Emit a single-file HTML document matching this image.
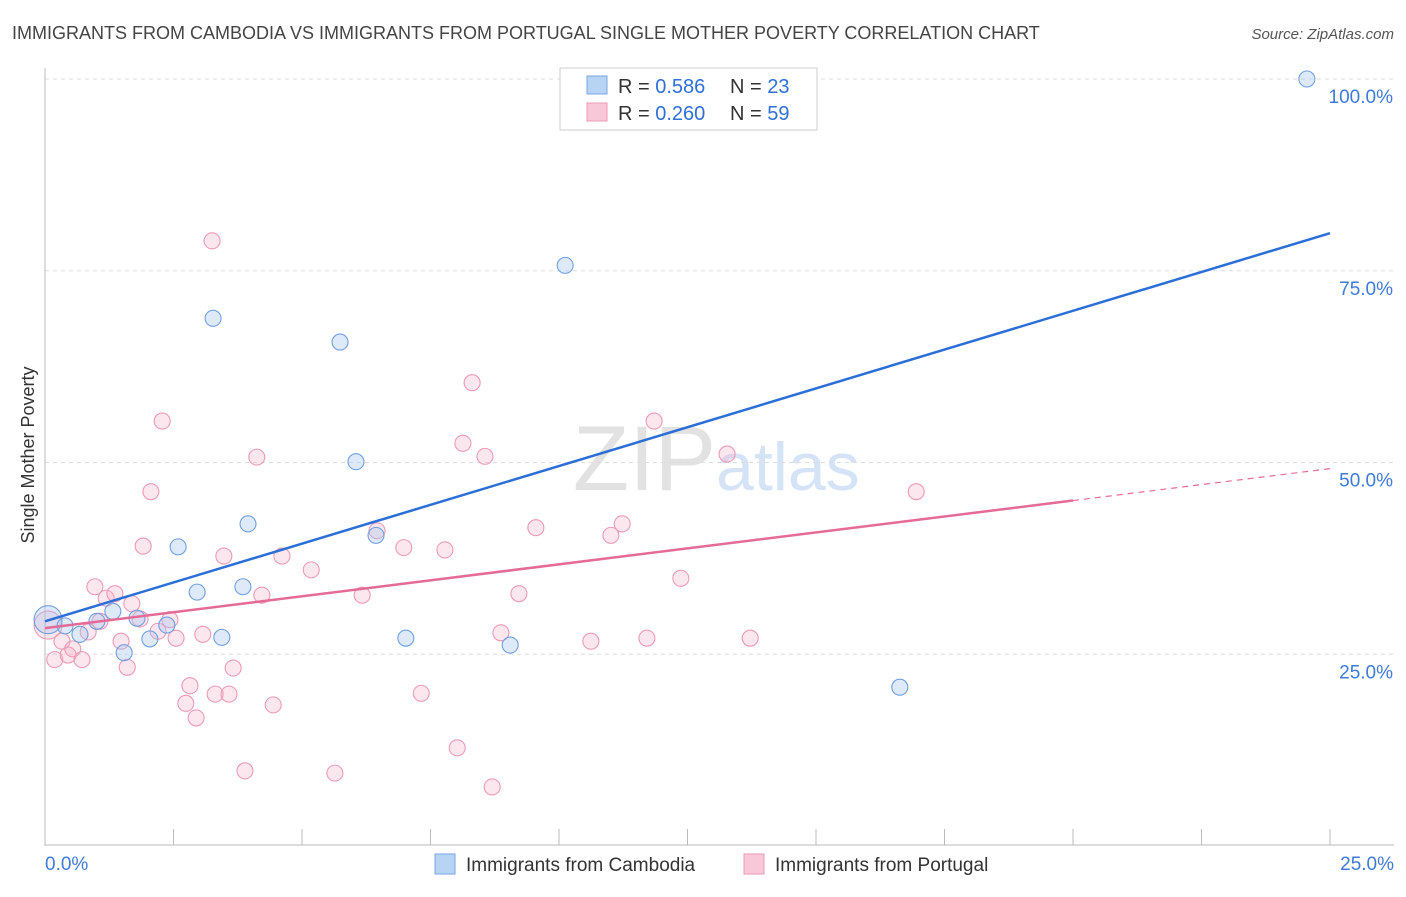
<!DOCTYPE html>
<html><head><meta charset="utf-8"><style>
body{margin:0;background:#fff;font-family:"Liberation Sans",sans-serif;}
svg text{font-family:"Liberation Sans",sans-serif;}
</style></head><body>
<svg id="c" width="1406" height="892">
<text x="12" y="39" font-size="18" fill="#444">IMMIGRANTS FROM CAMBODIA VS IMMIGRANTS FROM PORTUGAL SINGLE MOTHER POVERTY CORRELATION CHART</text>
<text x="1394" y="39" font-size="15" fill="#555" font-style="italic" text-anchor="end">Source: ZipAtlas.com</text>
<text x="716" y="490" font-size="92" fill="#e2e2e2" text-anchor="end" font-family="Liberation Serif">ZIP</text>
<text x="716" y="490" font-size="68" fill="#d4e3f6">atlas</text>
<text transform="translate(34,455) rotate(-90)" font-size="18" fill="#333" text-anchor="middle">Single Mother Poverty</text>
<g id="grid"></g><g id="marks"></g>
<g>
<rect x="560" y="68" width="257" height="62" fill="#fff" stroke="#ccc"/>
<rect x="587" y="76" width="20" height="18" fill="#b8d4f5" stroke="#7aa6e0"/>
<rect x="587" y="103" width="20" height="18" fill="#f9c8d8" stroke="#eb9ab4"/>
<text x="618" y="93" font-size="20" fill="#333">R = <tspan fill="#2f6fd6">0.586</tspan></text>
<text x="730" y="93" font-size="20" fill="#333">N = <tspan fill="#2f6fd6">23</tspan></text>
<text x="618" y="120" font-size="20" fill="#333">R = <tspan fill="#2f6fd6">0.260</tspan></text>
<text x="730" y="120" font-size="20" fill="#333">N = <tspan fill="#2f6fd6">59</tspan></text>
</g>
<g>
<rect x="435" y="854" width="20" height="20" fill="#b8d4f5" stroke="#7aa6e0"/>
<text x="466" y="871" font-size="19" fill="#333">Immigrants from Cambodia</text>
<rect x="744" y="854" width="20" height="20" fill="#f9c8d8" stroke="#eb9ab4"/>
<text x="775" y="871" font-size="19" fill="#333">Immigrants from Portugal</text>
</g>
</svg>
<script>
const xTicks=[0,2.5,5,7.5,10,12.5,15,17.5,20,22.5,25];
const yTicks=[25,50,75,100];
const yTickLabels=["25.0%","50.0%","75.0%","100.0%"];
const blueX=[0.06,0.39,0.68,1.01,1.32,1.54,1.79,2.04,2.37,2.59,2.96,3.27,3.44,3.85,3.95,5.74,6.05,6.44,7.02,9.05,10.12,16.63,24.55];
const blueY=[29.5,28.7,27.6,29.3,30.6,25.2,29.7,27.0,28.8,39.0,33.1,68.8,27.2,33.8,42.0,65.7,50.1,40.5,27.1,26.2,75.7,20.7,100.0];
const pinkX=[0.06,0.19,0.33,0.45,0.54,0.72,0.84,0.97,1.07,1.19,1.36,1.48,1.60,1.69,1.85,1.91,2.06,2.20,2.28,2.43,2.55,2.74,2.82,2.94,3.07,3.25,3.31,3.48,3.58,3.66,3.89,4.12,4.22,4.44,4.61,5.18,5.64,6.17,6.46,6.98,7.32,7.78,8.02,8.13,8.31,8.56,8.70,8.87,9.22,9.55,10.62,11.01,11.23,11.71,11.85,12.37,13.27,13.72,16.95];
const pinkY=[28.8,24.3,26.7,24.9,25.7,24.3,27.9,33.8,29.3,32.3,32.9,26.7,23.3,31.6,29.6,39.1,46.2,28.0,55.4,29.5,27.1,18.6,20.9,16.7,27.6,78.9,19.8,37.8,19.8,23.2,9.8,50.7,32.7,18.4,37.8,36.0,9.5,32.7,41.1,38.9,19.9,38.6,12.8,52.5,60.4,50.8,7.7,27.8,32.9,41.5,26.7,40.5,42.0,27.1,55.4,34.9,51.1,27.1,46.2];
const blueTrend=[29.3,2.024];
const pinkTrend=[28.4,0.832];
const sx=v=>45+v*51.4, sy=v=>846-v*7.67;
const NS="http://www.w3.org/2000/svg";
const grid=document.getElementById('grid'), marks=document.getElementById('marks');
function mk(p,tag,a){const e=document.createElementNS(NS,tag);for(const k in a)e.setAttribute(k,a[k]);p.appendChild(e);return e;}
yTicks.forEach((t,i)=>{
 const l=mk(grid,'line',{x1:45,x2:1394,y1:sy(t),y2:sy(t),stroke:'#ddd','stroke-dasharray':'4,4'});
 
 
 const tx=mk(grid,'text',{x:1393,y:sy(t)+24,'font-size':19,fill:'#3f7ad8','text-anchor':'end'});tx.textContent=yTickLabels[i];
 
 
});
mk(grid,'line',{x1:45,x2:45,y1:68,y2:846,stroke:'#bbb'});
mk(grid,'line',{x1:45,x2:1394,y1:845,y2:845,stroke:'#bbb'});
xTicks.forEach(t=>{const l=mk(grid,'line',{x1:sx(t),x2:sx(t),y1:829,y2:845,stroke:'#bbb'});
 
 });
let t0=mk(grid,'text',{x:45,y:870,'font-size':19,fill:'#3f7ad8'});t0.textContent='0.0%';


let t1=mk(grid,'text',{x:1394,y:870,'font-size':19,fill:'#3f7ad8','text-anchor':'end'});t1.textContent='25.0%';


pinkX.forEach((x,i)=>{const c=mk(marks,'circle',{cx:sx(x),cy:sy(pinkY[i]),r:i==0?14:8,fill:'rgba(246,176,200,0.3)',stroke:'#ec9ab6','stroke-width':1.1});
 
 });
blueX.forEach((x,i)=>{const c=mk(marks,'circle',{cx:sx(x),cy:sy(blueY[i]),r:i==0?14:8,fill:'rgba(160,196,240,0.35)',stroke:'#6f9fe0','stroke-width':1.1});
 
 });
let bl=mk(marks,'line',{x1:sx(0),y1:sy(blueTrend[0]),x2:sx(25),y2:sy(blueTrend[0]+blueTrend[1]*25),stroke:'#2b6fd6','stroke-width':2.5});


let pl=mk(marks,'line',{x1:sx(0),y1:sy(pinkTrend[0]),x2:sx(20),y2:sy(pinkTrend[0]+pinkTrend[1]*20),stroke:'#e46b98','stroke-width':2.5});


let pd=mk(marks,'line',{x1:sx(20),y1:sy(pinkTrend[0]+pinkTrend[1]*20),x2:sx(25),y2:sy(pinkTrend[0]+pinkTrend[1]*25),stroke:'#e46b98','stroke-width':1.2,'stroke-dasharray':'6,5'});


</script>
</body></html>
